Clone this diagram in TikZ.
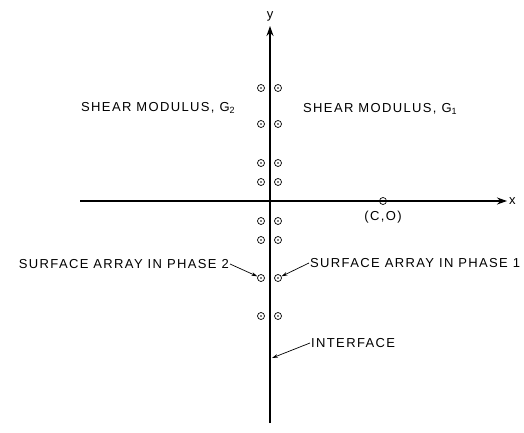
\documentclass[tikz,border=0pt]{standalone}
\usepackage{fontspec}
\setmainfont{Liberation Sans}[LetterSpace=10.5]
\usetikzlibrary{arrows.meta}
\begin{document}
\begin{tikzpicture}[x=1pt,y=-1pt,
  axis/.style={line width=1.1pt},
  dotc/.style={circle,draw,inner sep=0pt,minimum size=7pt,line width=0.7pt,
    path picture={\fill (path picture bounding box.center) circle (0.9pt);}},
  lbl/.style={font=\fontsize{13}{15}\selectfont,inner sep=1pt},
  ptr/.style={line width=0.7pt,-{Stealth[length=6pt,width=3.5pt]}}]
\useasboundingbox (0,0) rectangle (524,433);
% axes
\coordinate (ybot) at (270,423);
\coordinate (ytop) at (270,26);
\coordinate (xl) at (80,201);
\coordinate (xr) at (507,201);
\draw[axis,-{Stealth[length=10pt,width=7pt]}] (ybot) -- (ytop);
\draw[axis,-{Stealth[length=10pt,width=7pt]}] (xl) -- (xr);
\node[lbl] (ylab) at (270,16) {y};
\node[lbl,anchor=west] (xlab) at (508,201) {x};
% dots
\foreach \i/\yy in {1/88,2/124,3/163,4/182,5/221,6/240,7/278,8/316}{
  \node[dotc] (L\i) at (261,\yy) {};
  \node[dotc] (R\i) at (278,\yy) {};
}
\node[dotc] (C) at (383,201) {};
\node[lbl] (Clab) at (383,217) {(C,O)};
% labels
\node[lbl,anchor=west] (G2) at (80,108) {SHEAR MODULUS, G\raisebox{-0.4ex}{\fontsize{9}{10}\selectfont 2}};
\node[lbl,anchor=west] (G1) at (302,109) {SHEAR MODULUS, G\raisebox{-0.4ex}{\fontsize{9}{10}\selectfont 1}};
\node[lbl,anchor=east] (P2) at (230,264) {SURFACE ARRAY IN PHASE 2};
\node[lbl,anchor=west] (P1) at (309,263) {SURFACE ARRAY IN PHASE 1};
\node[lbl,anchor=west] (IF) at (310,343) {INTERFACE};
\coordinate (ifpt) at (272,358);
\draw[ptr] (P2.east) -- (L7);
\draw[ptr] (P1.west) -- (R7);
\draw[ptr] (IF.west) -- (ifpt);
\end{tikzpicture}
\end{document}
